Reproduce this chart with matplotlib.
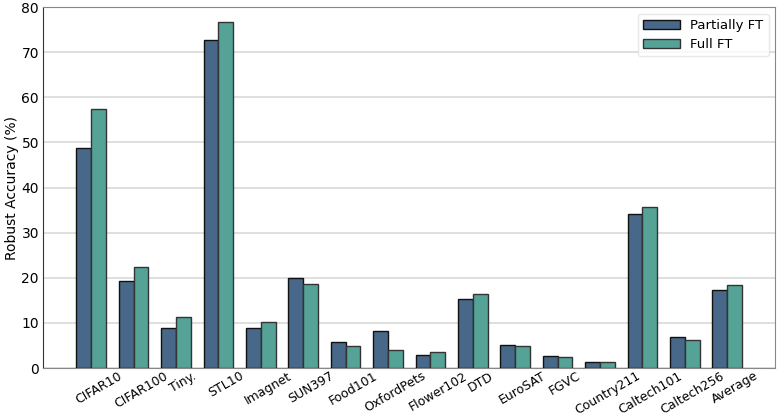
import numpy as np
import matplotlib
matplotlib.use("Agg")
import matplotlib.pyplot as plt

datasets = ["CIFAR10", "CIFAR100", "Tiny.", "STL10", "Imagnet", "SUN397", "Food101",
            "OxfordPets", "Flower102", "DTD", "EuroSAT", "FGVC", "Country211",
            "Caltech101", "Caltech256", "Average"]
partial_ft = [48.7, 19.3, 8.8, 72.8, 8.9, 20.0, 5.7, 8.1, 2.8, 15.4, 5.2, 2.7, 1.3, 34.1, 6.9, 17.4]
full_ft = [57.5, 22.4, 11.4, 76.8, 10.3, 18.7, 4.8, 3.9, 3.5, 16.3, 4.9, 2.4, 1.4, 35.7, 6.3, 18.5]

x = np.arange(len(datasets))
w = 0.35

fig, ax = plt.subplots(figsize=(7.84, 4.17), dpi=100)
fig.subplots_adjust(left=0.055, right=0.989, top=0.983, bottom=0.1175)

ax.bar(x - w / 2, partial_ft, w, color="#476888", edgecolor="#111111", linewidth=1,
       label="Partially FT", zorder=3)
ax.bar(x + w / 2, full_ft, w, color="#55a397", edgecolor="#333333", linewidth=1,
       label="Full FT", zorder=3)

ax.set_ylim(0, 80)
ax.set_yticks(range(0, 81, 10))
ax.set_xticks(x + w / 2)
ax.set_xticklabels(datasets, rotation=30, fontsize=9)
ax.tick_params(axis="y", labelsize=10, pad=3)
ax.tick_params(axis="x", pad=1)
ax.tick_params(length=0)
ax.set_ylabel("Robust Accuracy (%)", fontsize=10, labelpad=2)

ax.grid(axis="y", color="#d9d9d9", linewidth=1.2, zorder=0)
ax.set_axisbelow(True)
for side in ["top", "right", "bottom"]:
    ax.spines[side].set_color("#888888")
ax.spines["left"].set_color("#333333")

leg = ax.legend(loc="upper right", fontsize=9.5, framealpha=0.8, handlelength=2.8,
                labelspacing=0.45)
leg.get_frame().set_edgecolor("#e3e3e3")

plt.savefig("out.png")
